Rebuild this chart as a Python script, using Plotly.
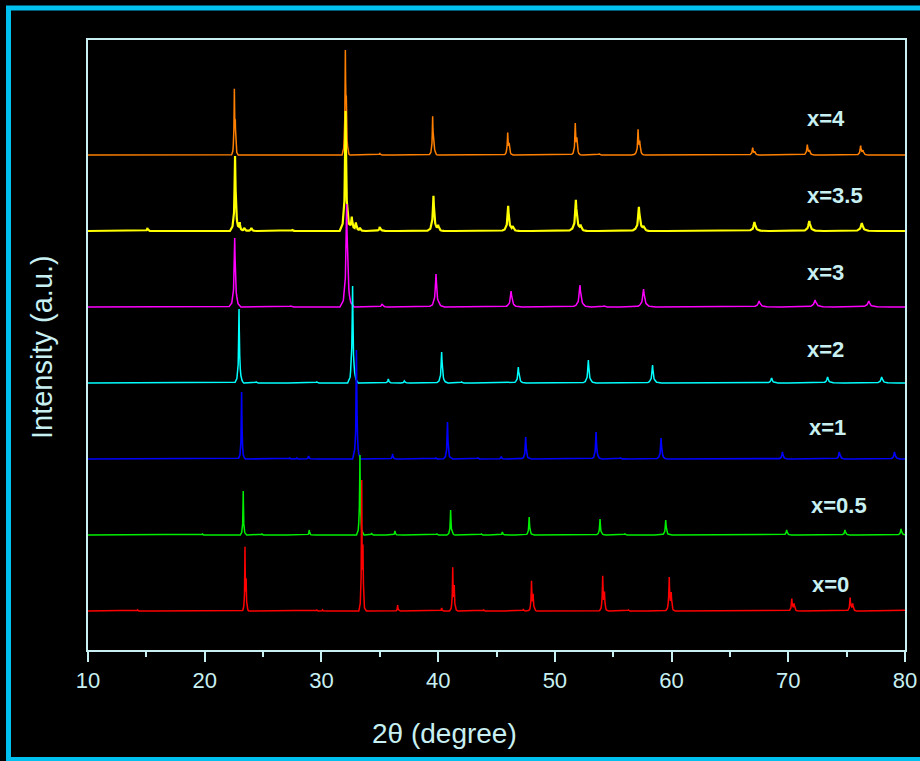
import numpy as np
import plotly.graph_objects as go

# ---------------- data ----------------
sample_labels = ["x=0", "x=0.5", "x=1", "x=2", "x=3", "x=3.5", "x=4"]
stack_offsets = [0, 76, 152, 228, 304, 380, 456]   # vertical stacking (a.u.)

# peak positions (2θ, degree) and intensities (a.u.) for each sample
peaks_x0_pos = [14.25, 23.45, 23.55, 29.6, 30.1, 33.45, 33.56, 36.53, 40.3, 41.25, 41.38, 43.9,
                47.3, 48.0, 48.14, 54.1, 54.25, 56.3, 59.8, 59.97, 70.3, 70.5, 75.3, 75.52, 80.15]
peaks_x0_int = [1, 62, 28, 1, 1, 126, 55, 6, 3, 42, 23, 1,
                2, 29, 15, 34, 17, 1, 33, 17, 12, 7, 13, 7, 5]

peaks_x05_pos = [19.8, 23.3, 24.9, 28.96, 33.3, 34.3, 36.3, 39.9, 41.07, 43.7, 45.5, 47.8,
                 53.87, 56.0, 59.5, 69.86, 74.86, 79.66]
peaks_x05_int = [1, 44, 1, 5, 80, 2, 4, 1, 25, 1, 3, 18,
                 16, 1, 15, 5, 5, 6]

peaks_x1_pos = [23.16, 27.3, 27.9, 28.9, 33.0, 36.1, 39.8, 40.8, 43.4, 45.4, 47.5, 53.53,
                55.6, 59.1, 69.5, 74.37, 79.1]
peaks_x1_int = [67, 1, 1, 3, 109, 5, 1, 37, 1, 2, 22, 27,
                1, 21, 7, 7, 7]

peaks_x2_pos = [22.94, 24.4, 29.6, 32.67, 35.73, 37.1, 40.3, 42.0, 46.87, 52.87, 58.37,
                68.57, 73.37, 78.0]
peaks_x2_int = [74, 1, 1, 97, 4, 2, 31, 1, 16, 23, 18, 5, 6, 6]

peaks_x3_pos = [22.57, 27.36, 32.16, 35.2, 39.82, 46.25, 52.15, 54.2, 57.6, 67.5, 72.3, 76.9]
peaks_x3_int = [69, 1, 103, 3, 33, 16, 22, 1, 18, 6, 7, 6]

peaks_x35_pos = [15.1, 22.6, 23.0, 23.4, 24.0, 27.5, 32.07, 32.6, 32.95, 33.3, 35.0, 39.6, 40.0,
                 46.0, 46.4, 51.8, 52.2, 57.2, 57.6, 67.1, 71.8, 76.3]
peaks_x35_int = [3, 75, 8, 3, 3, 1, 120, 14, 8, 3, 4, 35, 5,
                 25, 4, 31, 5, 24, 4, 9, 10, 8]

peaks_x4_pos = [22.54, 22.62, 32.05, 32.13, 35.0, 39.53, 39.63, 45.96, 46.08, 51.75, 51.88,
                53.8, 57.13, 57.27, 66.95, 67.12, 71.63, 71.82, 76.2, 76.4]
peaks_x4_int = [62, 25, 97, 40, 2, 36, 15, 21, 9, 30, 13,
                1, 24, 11, 7, 3, 10, 4, 9, 4]

# ---------------- styling ----------------
series = [
    (peaks_x0_pos, peaks_x0_int, "#ff0000", 0.20, 1.5),
    (peaks_x05_pos, peaks_x05_int, "#00ee00", 0.24, 1.5),
    (peaks_x1_pos, peaks_x1_int, "#0000ff", 0.27, 1.6),
    (peaks_x2_pos, peaks_x2_int, "#00ffff", 0.35, 1.5),
    (peaks_x3_pos, peaks_x3_int, "#ff00ff", 0.48, 1.5),
    (peaks_x35_pos, peaks_x35_int, "#ffff00", 0.42, 2.2),
    (peaks_x4_pos, peaks_x4_int, "#ff8000", 0.24, 1.5),
]

# peak line-shape template (relative offsets of the half-base width, relative heights)
shape_off = np.array([-1, -0.5, -0.2, -0.06, 0, 0.06, 0.2, 0.5, 1.0])
shape_rel = np.array([0, 0.06, 0.25, 0.72, 1, 0.72, 0.25, 0.06, 0])

AX = "#c8f0f2"
FONT = "Liberation Sans, Arial, sans-serif"

fig = go.Figure()

# draw from top pattern to bottom so lower patterns sit on top
for idx in reversed(range(len(series))):
    pos, inten, color, w0, lw = series[idx]
    pts = [np.arange(10, 80.0001, 0.05)]
    profiles = []
    for p, h in zip(pos, inten):
        w = w0 * (1 + (p - 20) / 60)
        xs = p + shape_off * w
        profiles.append((xs, shape_rel * h))
        pts.append(xs[(xs >= 10) & (xs <= 80)])
    x = np.unique(np.concatenate(pts))
    y = np.zeros_like(x)
    for xs, ys in profiles:
        y += np.interp(x, xs, ys, left=0, right=0)
    fig.add_trace(go.Scatter(x=x, y=y + stack_offsets[idx], mode="lines",
                             line=dict(color=color, width=lw), hoverinfo="skip",
                             showlegend=False))

# sample labels
label_x = [71.86, 71.78, 71.6, 71.43, 71.43, 71.43, 71.43]
label_dy = [27, 30, 32, 34, 35, 36, 37]
for i, lab in enumerate(sample_labels):
    fig.add_annotation(x=label_x[i], y=stack_offsets[i] + label_dy[i], text=lab,
                       showarrow=False, xanchor="left", yanchor="middle",
                       font=dict(family=FONT, size=22, color=AX, weight="bold"))

# axis titles
fig.add_annotation(x=(444 - 88) / 817, y=(650 - 733) / 610, xref="paper", yref="paper",
                   text="2θ (degree)", showarrow=False, xanchor="center", yanchor="middle",
                   font=dict(family=FONT, size=28, color=AX))
fig.add_annotation(x=(42 - 88) / 817, y=(650 - 347) / 610, xref="paper", yref="paper",
                   text="Intensity (a.u.)", showarrow=False, textangle=-90,
                   xanchor="center", yanchor="middle",
                   font=dict(family=FONT, size=29, color=AX))

# outer cyan frame
fig.add_shape(type="rect", xref="paper", yref="paper",
              x0=(8.5 - 88) / 817, x1=(930 - 88) / 817,
              y0=(650 - 759.5) / 610, y1=(650 - 8) / 610,
              line=dict(color="#00c0ef", width=5), fillcolor="rgba(0,0,0,0)")

fig.update_layout(
    width=920, height=761,
    margin=dict(l=88, r=15, t=40, b=111, autoexpand=False),
    paper_bgcolor="black", plot_bgcolor="black",
    xaxis=dict(range=[10, 80], dtick=10, tick0=10, ticks="outside", ticklen=10, tickwidth=2,
               tickcolor=AX, showline=True, linecolor=AX, linewidth=2, mirror=True,
               showgrid=False, zeroline=False, automargin=False,
               tickfont=dict(family=FONT, size=22, color=AX),
               minor=dict(dtick=5, ticklen=5, tickwidth=2, tickcolor=AX, ticks="outside",
                          showgrid=False)),
    yaxis=dict(range=[-39, 571], showticklabels=False, ticks="", showline=True,
               linecolor=AX, linewidth=2, mirror=True, showgrid=False, zeroline=False,
               automargin=False),
)

fig.write_html("out.html")
